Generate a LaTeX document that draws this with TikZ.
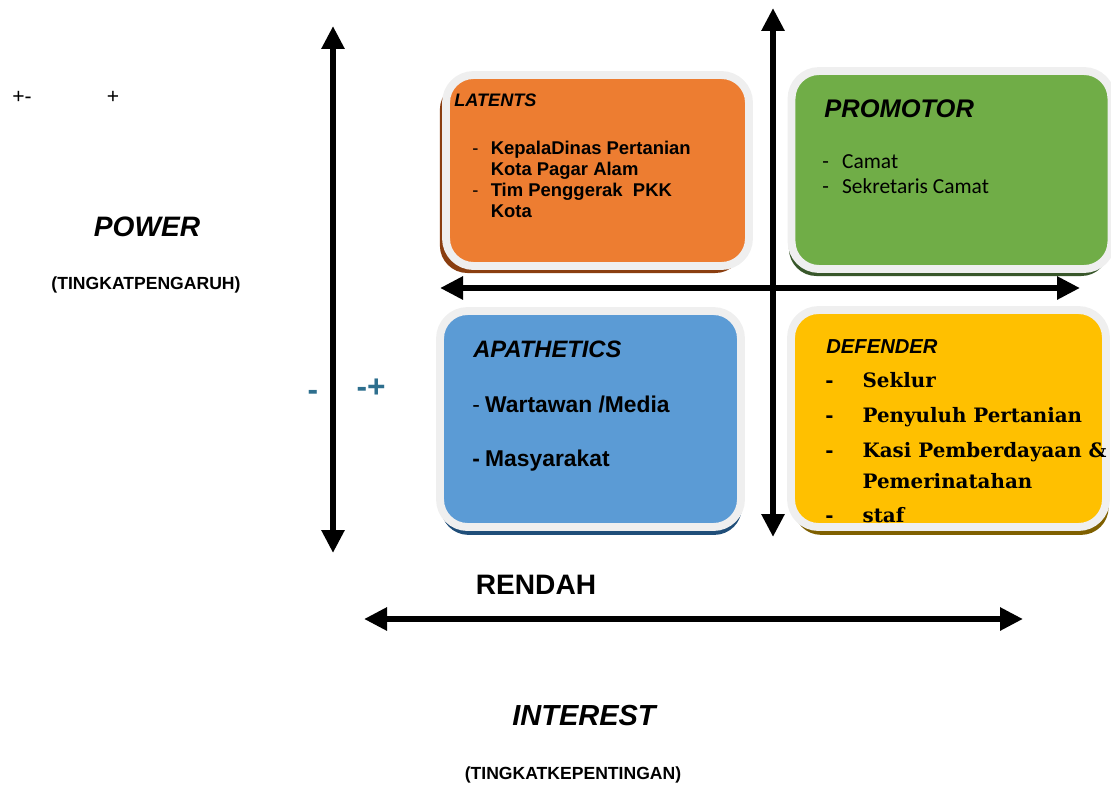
\documentclass[tikz,border=0pt]{standalone}
\usepackage{fontspec}
\setmainfont{Liberation Sans}
\newfontfamily\carlito{Carlito}
\newfontfamily\serifbold{DejaVu Serif}
\usepackage{xcolor}
\usetikzlibrary{arrows.meta,shadows,positioning}
\definecolor{latentcol}{HTML}{ED7D31}
\definecolor{latentdark}{HTML}{8A3E10}
\definecolor{promotorcol}{HTML}{70AD47}
\definecolor{promotordark}{HTML}{38572A}
\definecolor{apathcol}{HTML}{5B9BD5}
\definecolor{apathdark}{HTML}{204E79}
\definecolor{defendcol}{HTML}{FFC000}
\definecolor{defenddark}{HTML}{7F6000}
\definecolor{framegray}{HTML}{EFEFEF}
\definecolor{signcol}{HTML}{2E6F8E}

\begin{document}
\begin{tikzpicture}[
    x=0.02cm, y=-0.02cm,
    quad/.style={rectangle, rounded corners=0.55cm, draw=framegray, line width=4.5pt},
    axisarrow/.style={{Triangle[length=0.46cm,width=0.44cm]}-{Triangle[length=0.46cm,width=0.44cm]}, line width=3.4pt},
    quadtitle/.style={font=\bfseries\itshape, anchor=west, inner sep=0},
    itemlist/.style={anchor=north west, inner sep=0, align=left}
]
\useasboundingbox (0,0) rectangle (1111,784);

% quadrants
\node[quad, fill=latentcol, minimum width=6.06cm, minimum height=3.82cm,
      drop shadow={shadow xshift=-3.5pt, shadow yshift=-4pt, fill=latentdark, opacity=1}] (latents) at (597.5,170.5) {};
\node[quad, fill=promotorcol, minimum width=6.4cm, minimum height=3.96cm,
      drop shadow={shadow xshift=-1.5pt, shadow yshift=-4pt, fill=promotordark, opacity=1}] (promotor) at (951.5,170) {};
\node[quad, fill=apathcol, minimum width=6.02cm, minimum height=4.32cm,
      drop shadow={shadow xshift=0.5pt, shadow yshift=-4.5pt, fill=apathdark, opacity=1}] (apathetics) at (590.5,419) {};
\node[quad, fill=defendcol, minimum width=6.3cm, minimum height=4.34cm,
      drop shadow={shadow xshift=1.5pt, shadow yshift=-4.5pt, fill=defenddark, opacity=1}] (defender) at (948.5,418.5) {};

% axes
\coordinate (pwtop) at (333,26);
\coordinate (pwbot) at (333,553);
\coordinate (midtop) at (773,8);
\coordinate (midbot) at (773,537);
\coordinate (midleft) at (440,288);
\coordinate (midright) at (1080,288);
\coordinate (intleft) at (364,619);
\coordinate (intright) at (1023,619);
\draw[axisarrow] (pwtop) -- (pwbot);
\draw[axisarrow] (midtop) -- (midbot);
\draw[axisarrow] (midleft) -- (midright);
\draw[axisarrow] (intleft) -- (intright);

% quadrant texts
\node[quadtitle, font=\bfseries\itshape\fontsize{10.3}{12}\selectfont] (latt) at (454,100) {LATENTS};
\node[itemlist, font=\bfseries\fontsize{10.5}{11.9}\selectfont] (latl) at (472,140)
  {\begin{tabular}{@{}l@{\hspace{7pt}}l@{}}
   \mdseries - & KepalaDinas Pertanian\\
     & Kota Pagar Alam\\
   \mdseries - & Tim Penggerak\ \ PKK\\
     & Kota
   \end{tabular}};

\node[quadtitle, font=\bfseries\itshape\fontsize{14.5}{16}\selectfont] (prot) at (824,109) {PROMOTOR};
\node[itemlist, font=\carlito\fontsize{12.2}{14.2}\selectfont] (prol) at (822,151)
  {\begin{tabular}{@{}l@{\hspace{7.5pt}}l@{}}
   - & Camat\\
   - & Sekretaris Camat
   \end{tabular}};

\node[quadtitle, font=\bfseries\itshape\fontsize{13.5}{15}\selectfont] (apat) at (473,349) {APATHETICS};
\node[itemlist, font=\bfseries\fontsize{13}{30.6}\selectfont] (apal) at (472,375)
  {\begin{tabular}{@{}l@{\hspace{3pt}}l@{}}
   \mdseries - & Wartawan /Media\\
   - & Masyarakat
   \end{tabular}};

\node[quadtitle, font=\bfseries\itshape\fontsize{11.5}{13}\selectfont] (deft) at (826,347) {DEFENDER};
\node[itemlist, font=\serifbold\bfseries\fontsize{11.3}{19.8}\selectfont] (defl) at (825,363)
  {\begin{tabular}{@{}l@{\hspace{16.5pt}}l@{}}
   - & Seklur\\
   - & Penyuluh Pertanian\\
   - & Kasi Pemberdayaan \&\\[-2.2pt]
     & Pemerinatahan\\
   - & staf
   \end{tabular}};

% axis labels
\node[font=\fontsize{12}{14}\selectfont] (pm) at (22,97) {+-};
\node[font=\fontsize{12}{14}\selectfont] (pp) at (113,97) {+};
\node[font=\bfseries\itshape\fontsize{16}{18}\selectfont] (power) at (147,227) {POWER};
\node[font=\bfseries\fontsize{10}{12}\selectfont] (powersub) at (146,285) {(TINGKATPENGARUH)};
\node[font=\bfseries\fontsize{18}{20}\selectfont, text=signcol] (minus) at (313,395) {-};
\node[font=\bfseries\fontsize{18}{20}\selectfont, text=signcol] (minplus) at (371,388) {-+};
\node[font=\bfseries\fontsize{16}{18}\selectfont] (rendah) at (536,585) {RENDAH};
\node[font=\bfseries\itshape\fontsize{16.5}{18}\selectfont] (interest) at (584,716) {INTEREST};
\node[font=\bfseries\fontsize{10}{12}\selectfont] (interestsub) at (573,775) {(TINGKATKEPENTINGAN)};
\end{tikzpicture}
\end{document}
